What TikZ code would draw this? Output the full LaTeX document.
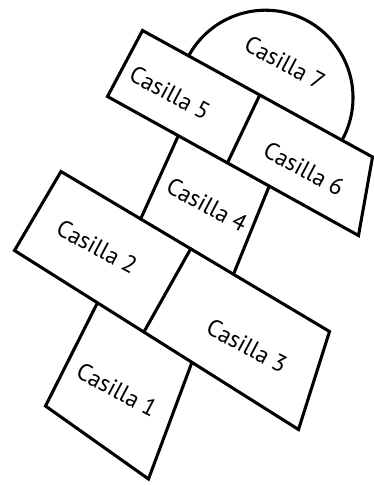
\documentclass[tikz,border=0pt]{standalone}
\usepackage{fontspec}
\newfontfamily\lbfont{PT Sans}
\begin{document}
\begin{tikzpicture}[x=0.75pt,y=-0.75pt,
  edge/.style={line width=2.3pt, line join=miter},
  lbl/.style={font=\lbfont\fontsize{18}{20}\selectfont, rotate=-28, inner sep=0pt}]
\useasboundingbox (0,0) rectangle (374,485);
% upper block (5 and 6)
\coordinate (a1) at (142.5,30.5);
\coordinate (a2) at (372.5,157);
\coordinate (a3) at (358.5,235.5);
\coordinate (a4) at (107.5,96.5);
\draw[edge] (a1) -- (a2) -- (a3) -- (a4) -- cycle;
% divider 5/6
\coordinate (d1) at (260,94.5);
\coordinate (d2) at (227,163.8);
\draw[edge] (d1) -- (d2);
% semicircle 7
\draw[edge] plot[domain=-151.34:28.66, samples=90] ({265.5+87.5*cos(\x)},{97.7+87.5*sin(\x)});
% middle block (2 and 3)
\coordinate (b1) at (61,171.5);
\coordinate (b2) at (329.5,331.5);
\coordinate (b3) at (298.5,429.5);
\coordinate (b4) at (14.5,250.5);
\draw[edge] (b1) -- (b2) -- (b3) -- (b4) -- cycle;
% divider 2/3
\coordinate (e1) at (191.3,247.7);
\coordinate (e2) at (143.2,333.2);
\draw[edge] (e1) -- (e2);
% box 4 sides
\coordinate (c1) at (177.9,136.6);
\coordinate (c2) at (141.2,217.8);
\coordinate (c3) at (268.8,187.1);
\coordinate (c4) at (234,273);
\draw[edge] (c1) -- (c2);
\draw[edge] (c3) -- (c4);
% box 1
\coordinate (f1) at (96.9,303.9);
\coordinate (f2) at (45.5,406);
\coordinate (f3) at (148.5,479);
\coordinate (f4) at (191.5,363.5);
\draw[edge] (f1) -- (f2) -- (f3) -- (f4);
% labels
\node[lbl] (l7) at (285,63) {Casilla 7};
\node[lbl] (l5) at (170,93) {Casilla 5};
\node[lbl] (l6) at (304,169) {Casilla 6};
\node[lbl] (l4) at (207,205) {Casilla 4};
\node[lbl] (l2) at (97,247) {Casilla 2};
\node[lbl] (l3) at (247,346) {Casilla 3};
\node[lbl] (l1) at (117,390) {Casilla 1};
\end{tikzpicture}
\end{document}
